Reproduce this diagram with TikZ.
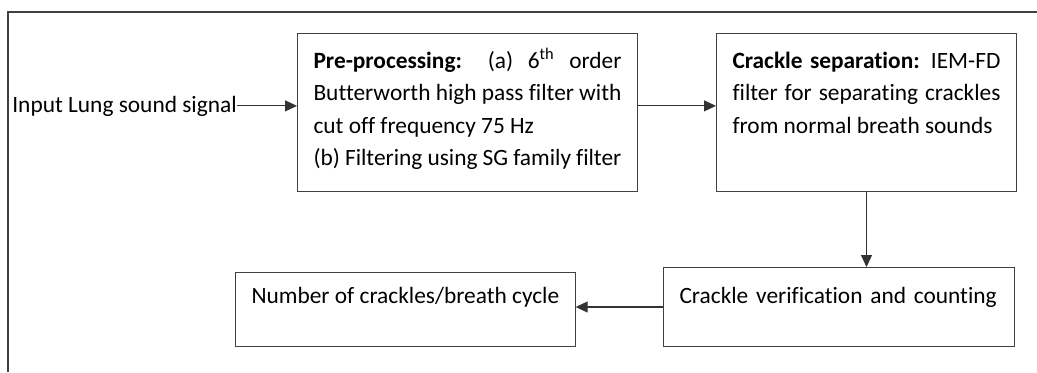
\documentclass[tikz,border=0pt]{standalone}
\usepackage{fontspec}
\setmainfont[Ligatures=NoCommon]{Carlito}
\usetikzlibrary{arrows.meta}
\begin{document}
\begin{tikzpicture}[x=.02cm,y=-.02cm,
  every node/.style={font=\fontsize{13.3}{18.4}\selectfont},
  stage/.style={draw=black!75,line width=.6pt,anchor=north west,inner xsep=.32cm,inner ysep=0pt},
  flow/.style={draw=black!80,line width=.6pt,-{Triangle[length=.24cm,width=.22cm]}}]
\useasboundingbox (0,0) rectangle (1037,372);
\draw[black!75,line width=.6pt] (8,372) -- (8,12) -- (1037,12);
\node[anchor=base west,inner sep=0pt] (in) at (12,112) {Input Lung sound signal};
\node[stage,text width=6.16cm,align=justify,text height=.7cm,text depth=2.46cm] (pre) at (297,33)
  {\textbf{Pre-processing:} (a) 6\textsuperscript{th} order\linebreak Butterworth high pass filter with\linebreak cut off frequency 75 Hz\\(b) Filtering using SG family filter};
\node[stage,text width=5.36cm,align=justify,text height=.7cm,text depth=2.46cm] (sep) at (716,33)
  {\textbf{Crackle separation:} IEM-FD\linebreak filter for separating crackles\linebreak from normal breath sounds};
\node[stage,text width=6.38cm,align=left,text height=.72cm,text depth=.86cm] (ver) at (663,267) {Crackle verification and counting};
\node[stage,minimum width=6.54cm,text height=.62cm,text depth=.86cm] (num) at (235,272) {Number of crackles/breath cycle};
\draw[flow] (in.east) -- (in.east -| pre.west);
\draw[flow] (in.east -| pre.east) -- (in.east -| sep.west);
\draw[flow] (sep.south) -- (sep.south |- ver.north);
\draw[flow] (ver.west) -- (ver.west -| num.east);
\end{tikzpicture}
\end{document}
